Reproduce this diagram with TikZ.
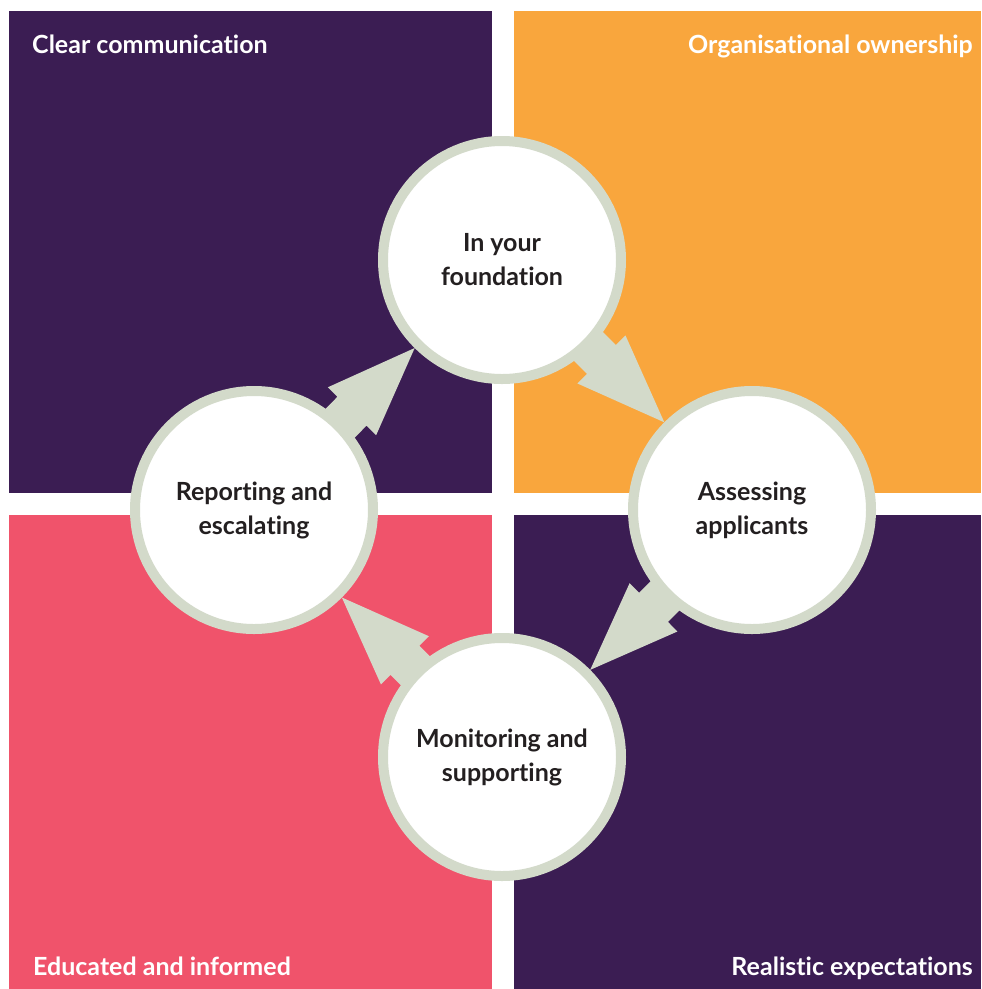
\documentclass[tikz,border=0pt]{standalone}
\usepackage{fontspec}
\setmainfont{Lato}[Ligatures={NoCommon}]
\usetikzlibrary{calc}
\definecolor{plum}{HTML}{3B1D53}
\definecolor{amber}{HTML}{F9A63D}
\definecolor{rose}{HTML}{F0536B}
\definecolor{sage}{HTML}{D3DACA}
\definecolor{ink}{HTML}{231F20}
\tikzset{
  stage/.style={circle, draw=sage, line width=10pt, fill=white, minimum size=238pt, inner sep=0pt,
    align=center, text=ink, font=\bfseries\fontsize{25}{34}\selectfont},
  title/.style={text=white, font=\bfseries\fontsize{25}{30}\selectfont, inner sep=0pt},
  flow/.style={fill=sage, draw=none}
}
\newcommand{\bigarrow}[2]{%
  \coordinate (tip-#1-#2) at ($(#2.center)!124pt!(#1.center)$);
  \coordinate (hb-#1-#2) at ($(#2.center)!213pt!(#1.center)$);
  \fill[flow] (tip-#1-#2)
    -- ($(hb-#1-#2)!34pt!90:(tip-#1-#2)$)
    -- ($(hb-#1-#2)!20.5pt!90:(tip-#1-#2)$)
    -- ($(#1.center)!20.5pt!90:(#2.center)$)
    -- ($(#1.center)!20.5pt!-90:(#2.center)$)
    -- ($(hb-#1-#2)!20.5pt!-90:(tip-#1-#2)$)
    -- ($(hb-#1-#2)!34pt!-90:(tip-#1-#2)$)
    -- cycle;}
\begin{document}
\begin{tikzpicture}[x=1pt,y=-1pt]
\useasboundingbox[fill=white] (0,0) rectangle (982,989);
\fill[plum] (9,11) rectangle (492,493);
\fill[amber] (514,11) rectangle (981,493);
\fill[rose] (9,515) rectangle (492,989);
\fill[plum] (514,515) rectangle (981,989);
\node[title, anchor=base west] (t1) at (32,53) {Clear communication};
\node[title, anchor=base east] (t2) at (973,53) {Organisational ownership};
\node[title, anchor=base west] (t3) at (33,975) {Educated and informed};
\node[title, anchor=base east] (t4) at (973,975) {Realistic expectations};
% centres first (for arrows), then circles drawn on top
\coordinate (ctop) at (502,260);
\coordinate (cright) at (752,510);
\coordinate (cbottom) at (502,757);
\coordinate (cleft) at (254,510);
\bigarrow{cleft}{ctop}
\bigarrow{ctop}{cright}
\bigarrow{cright}{cbottom}
\bigarrow{cbottom}{cleft}
\node[stage] (top) at (ctop) {In your\\foundation};
\node[stage] (right) at (cright) {Assessing\\applicants};
\node[stage] (bottom) at (cbottom) {Monitoring and\\supporting};
\node[stage] (left) at (cleft) {Reporting and\\escalating};
\end{tikzpicture}
\end{document}
